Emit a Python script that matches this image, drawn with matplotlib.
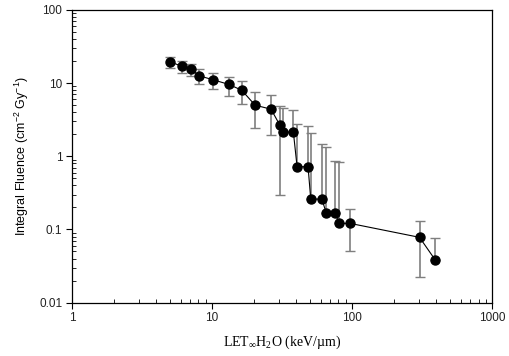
import numpy as np
import matplotlib
matplotlib.use("Agg")
import matplotlib.pyplot as plt
from matplotlib.ticker import LogLocator, NullFormatter, FixedFormatter, FixedLocator

plt.rcParams['mathtext.default'] = 'regular'

# data
let = [5.0, 6.1, 7.1, 8.1, 10.2, 13.2, 16.3, 20.3, 26.4, 30.6, 32.3, 38.1,
       40.5, 48.5, 50.7, 60.8, 65.6, 76.0, 80.7, 96.8, 303, 392]
fluence = [19.6, 17.0, 15.4, 12.6, 11.1, 9.6, 8.0, 5.0, 4.4, 2.64, 2.14, 2.14,
           0.72, 0.72, 0.26, 0.26, 0.166, 0.166, 0.121, 0.121, 0.078, 0.0384]
err_hi = [22.8, 20.3, 18.2, 15.4, 13.9, 12.2, 10.8, 7.5, 6.9, 4.9, 4.5, 4.3,
          2.8, 2.6, 2.1, 1.48, 1.35, 0.87, 0.83, 0.19, 0.131, 0.076]
err_lo = [16.1, 13.7, 12.4, 9.6, 8.2, 6.7, 5.2, 2.4, 1.93, 0.30, 2.14, 2.14,
          0.72, 0.72, 0.26, 0.26, 0.166, 0.166, 0.121, 0.050, 0.0223, 0.0384]

let = np.array(let)
fluence = np.array(fluence)
yerr = [fluence - np.array(err_lo), np.array(err_hi) - fluence]

fig = plt.figure(figsize=(5.10, 3.56), dpi=100)
ax = fig.add_axes([0.141, 0.150, 0.824, 0.822])

ax.errorbar(let, fluence, yerr=yerr, fmt='none', ecolor='#7f7f7f',
            elinewidth=1.2, capsize=3.5, capthick=1.0, zorder=1)
ax.plot(let, fluence, color='black', lw=0.8, marker='o', ms=6.5,
        mfc='black', mec='black', zorder=3)

ax.set_xscale('log')
ax.set_yscale('log')
ax.set_xlim(1, 1000)
ax.set_ylim(0.01, 100)

ax.xaxis.set_major_locator(FixedLocator([1, 10, 100, 1000]))
ax.xaxis.set_major_formatter(FixedFormatter(['1', '10', '100', '1000']))
ax.yaxis.set_major_locator(FixedLocator([0.01, 0.1, 1, 10, 100]))
ax.yaxis.set_major_formatter(FixedFormatter(['0.01', '0.1', '1', '10', '100']))
ax.xaxis.set_minor_locator(LogLocator(base=10, subs=np.arange(2, 10)))
ax.yaxis.set_minor_locator(LogLocator(base=10, subs=np.arange(2, 10)))
ax.xaxis.set_minor_formatter(NullFormatter())
ax.yaxis.set_minor_formatter(NullFormatter())

ax.tick_params(which='major', direction='out', length=4, width=0.8,
               top=False, right=False, pad=3)
ax.tick_params(which='minor', direction='in', length=3, width=0.6,
               top=False, right=False)
for lab in ax.get_xticklabels() + ax.get_yticklabels():
    lab.set_fontfamily('Liberation Sans')
    lab.set_fontsize(8.5)
    lab.set_color('#222222')

for s in ax.spines.values():
    s.set_linewidth(0.9)

ax.set_ylabel(r'Integral Fluence (cm$^{-2}$ Gy$^{-1}$)',
              fontfamily='Liberation Sans', fontsize=9, labelpad=6)
ax.set_xlabel('LET$_{\u221e}$H$_2$O (keV/\u00b5m)',
              fontfamily='Liberation Serif', fontsize=10, labelpad=7)

fig.savefig('out.png', dpi=100, facecolor='white')
